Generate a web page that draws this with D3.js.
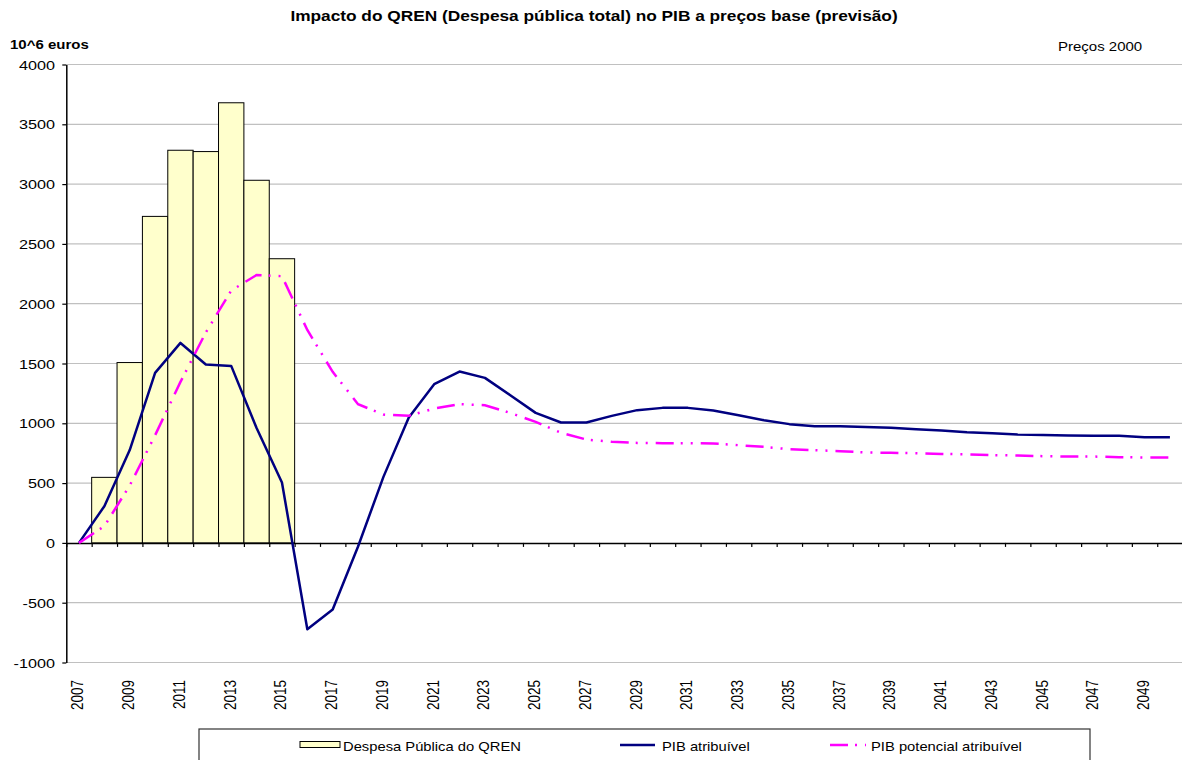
<!DOCTYPE html>
<html>
<head>
<meta charset="utf-8">
<script src="https://cdn.jsdelivr.net/npm/d3@7"></script>
<style>
  body { margin: 0; background: #fff; }
  text { font-family: "Liberation Sans", Arial, sans-serif; fill: #000; }
</style>
</head>
<body>
<script>
var years = d3.range(2007, 2051)
var despesaYears = [2008, 2009, 2010, 2011, 2012, 2013, 2014, 2015]
var despesa = [548, 1508, 2730, 3283, 3272, 3680, 3032, 2376]
var pib = [0, 307, 776, 1422, 1672, 1492, 1480, 960, 505, -722, -557, -30, 552, 1048, 1327, 1433, 1380,
  1235, 1087, 1007, 1007, 1062, 1110, 1129, 1129, 1107, 1068, 1026, 993, 976, 976, 970, 962,
  951, 940, 926, 917, 906, 903, 898, 895, 895, 884, 884]
var pibPot = [0, 140, 480, 900, 1346, 1760, 2110, 2240, 2230, 1780, 1430, 1160, 1073, 1063, 1123, 1160, 1151,
  1087, 1012, 920, 864, 845, 836, 834, 834, 831, 817, 803, 783, 775, 767, 756, 753,
  750, 744, 741, 733, 731, 725, 722, 722, 717, 714, 714]
var yTicks = d3.range(-1000, 4001, 500)
var legendLabels = ["Despesa Pública do QREN", "PIB atribuível", "PIB potencial atribuível"]

var width = 1182, height = 760
var plotLeft = 66.3, plotRight = 1182.6, plotTop = 64.5, plotBottom = 662.5
var sx = 1.2 // text in the picture is stretched a bit horizontally

var svg = d3.select("body").append("svg")
    .attr("width", width)
    .attr("height", height)

var x = d3.scaleBand().domain(years).range([plotLeft, plotRight]).padding(0)
var xIdx = d3.scaleLinear().domain([0, years.length]).range([plotLeft, plotRight])
var y = d3.scaleLinear().domain([-1000, 4000]).range([plotBottom, plotTop])

function label(g, str, tx, ty, anchor, opts) {
  opts = opts || {}
  var s = opts.sx || sx
  return g.append("text")
    .attr("transform", "translate(" + tx + "," + ty + ") scale(" + s + ",1)" + (opts.rot ? " rotate(" + opts.rot + ")" : ""))
    .attr("text-anchor", anchor)
    .attr("font-size", opts.size || 13)
    .attr("font-weight", opts.bold ? "bold" : null)
    .text(str)
}

// gridlines
svg.append("g").selectAll("line")
  .data(yTicks.filter(function(d) { return d !== 0 }))
  .enter().append("line")
    .attr("x1", plotLeft).attr("x2", plotRight)
    .attr("y1", function(d) { return y(d) }).attr("y2", function(d) { return y(d) })
    .attr("stroke", "#c0c0c0")
    .attr("stroke-width", 1.2)

// bars
svg.append("g").selectAll("rect")
  .data(despesa)
  .enter().append("rect")
    .attr("x", function(d, i) { return x(despesaYears[i]) })
    .attr("y", function(d) { return y(d) })
    .attr("width", x.bandwidth())
    .attr("height", function(d) { return y(0) - y(d) })
    .attr("fill", "#ffffcc")
    .attr("stroke", "#000")
    .attr("stroke-width", 1)

// x axis at zero, ticks on category boundaries
var xAxis = svg.append("g")
    .attr("transform", "translate(0," + y(0) + ")")
    .call(d3.axisBottom(xIdx).tickValues(d3.range(0, years.length + 1)).tickSize(4).tickSizeOuter(0).tickFormat(""))
xAxis.select(".domain").attr("stroke", "#000").attr("stroke-width", 1.5)
xAxis.selectAll(".tick line").attr("stroke", "#000").attr("stroke-width", 1.2)

// y axis
var yAxis = svg.append("g")
    .attr("transform", "translate(" + plotLeft + ",0)")
    .call(d3.axisLeft(y).tickValues(yTicks).tickSize(4).tickSizeOuter(0).tickFormat(""))
yAxis.select(".domain").attr("stroke", "#000").attr("stroke-width", 1.5)
yAxis.selectAll(".tick line").attr("stroke", "#000").attr("stroke-width", 1.2)

var yl = svg.append("g")
yTicks.forEach(function(d) { label(yl, d, 55, y(d) + 5, "end", {size: 13.5}) })

// year labels
var xl = svg.append("g")
years.forEach(function(d, i) {
  if (i % 2 === 0) label(xl, d, x(d) + x.bandwidth() / 2 + 4.5, 680, "end", {size: 13.5, rot: -90})
})

// lines
var line = d3.line()
    .x(function(d, i) { return x(years[i]) + x.bandwidth() / 2 })
    .y(function(d) { return y(d) })

svg.append("path")
    .datum(pib)
    .attr("d", line)
    .attr("fill", "none")
    .attr("stroke", "#000080")
    .attr("stroke-width", 2.5)
    .attr("stroke-linejoin", "round")

svg.append("path")
    .datum(pibPot)
    .attr("d", line)
    .attr("fill", "none")
    .attr("stroke", "#ff00ff")
    .attr("stroke-width", 2.5)
    .attr("stroke-dasharray", "18,7,2,8,2,8")

// titles
label(svg, "Impacto do QREN (Despesa pública total) no PIB a preços base (previsão)", 594, 21, "middle", {size: 14.4, bold: true})
label(svg, "10^6 euros", 10, 49, "start", {size: 12.5, bold: true})
label(svg, "Preços 2000", 1058, 51, "start", {size: 12.5})

// legend
var lg = svg.append("g")
lg.append("rect")
    .attr("x", 199).attr("y", 729).attr("width", 891).attr("height", 40)
    .attr("fill", "#fff").attr("stroke", "#333").attr("stroke-width", 1.2)
lg.append("rect")
    .attr("x", 300).attr("y", 741.5).attr("width", 40).attr("height", 6)
    .attr("fill", "#ffffcc").attr("stroke", "#000").attr("stroke-width", 1)
label(lg, legendLabels[0], 343, 751, "start", {size: 12.3})
lg.append("line")
    .attr("x1", 620).attr("x2", 655).attr("y1", 745).attr("y2", 745)
    .attr("stroke", "#000080").attr("stroke-width", 2.5)
label(lg, legendLabels[1], 662, 751, "start", {size: 12.3})
lg.append("line")
    .attr("x1", 830).attr("x2", 866).attr("y1", 745).attr("y2", 745)
    .attr("stroke", "#ff00ff").attr("stroke-width", 2.5)
    .attr("stroke-dasharray", "18,7,2,8,2,8")
label(lg, legendLabels[2], 871, 751, "start", {size: 12.3})
</script>
</body>
</html>
